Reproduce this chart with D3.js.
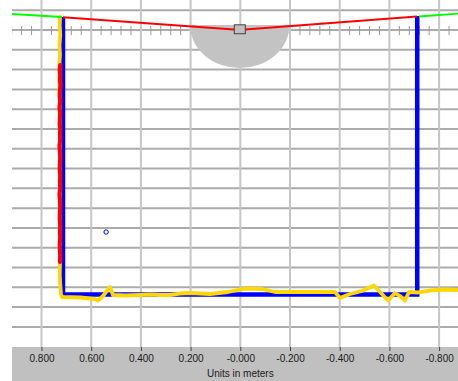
<!DOCTYPE html>
<html><head><meta charset="utf-8">
<script src="https://cdn.jsdelivr.net/npm/d3@7"></script>
<style>html,body{margin:0;padding:0;background:#fff;overflow:hidden}</style>
</head><body><svg id="c" width="458" height="381"></svg>
<script>
// ---- data (meters): [lateral, forward] ----
const majorTicks = [0.8, 0.6, 0.4, 0.2, 0, -0.2, -0.4, -0.6, -0.8];
const tickLabels = ["0.800", "0.600", "0.400", "0.200", "-0.000", "-0.200", "-0.400", "-0.600", "-0.800"];
const gridRows = [-0.08, 0, 0.08, 0.16, 0.24, 0.32, 0.40, 0.48, 0.56, 0.64, 0.72, 0.80, 0.88, 0.96, 1.04, 1.12, 1.20];
const axisTitle = "Units in meters";

const blueScan = [[0.7135, -0.0525], [0.7135, 1.069], [-0.712, 1.069], [-0.712, -0.0566]];
const yellowScan = [
  [0.7256, -0.0525], [0.7266, -0.0202], [0.7245, 0.0202], [0.7276, 0.0606], [0.7256, 0.1010], [0.7276, 0.1293],
  [0.7256, 0.4850], [0.7256, 0.6871], [0.7256, 0.9378], [0.7266, 0.9903], [0.7245, 1.0307], [0.7215, 1.0671],
  [0.7175, 1.0792], [0.6451, 1.0812], [0.5847, 1.0873], [0.5726, 1.0934], [0.5525, 1.0752], [0.5243, 1.0388],
  [0.5123, 1.0711], [0.4636, 1.0731], [0.4036, 1.0711], [0.3634, 1.0691], [0.3231, 1.0711], [0.2829, 1.0711],
  [0.2425, 1.0651], [0.2024, 1.0631], [0.1622, 1.0651], [0.1219, 1.0671], [0.0495, 1.0590], [-0.0189, 1.0449],
  [-0.0873, 1.0469], [-0.1396, 1.0590], [-0.2402, 1.0590], [-0.3207, 1.0590], [-0.3811, 1.0590], [-0.4012, 1.0833],
  [-0.4414, 1.0671], [-0.4897, 1.0550], [-0.5380, 1.0327], [-0.5662, 1.0631], [-0.5944, 1.0934], [-0.6225, 1.0631],
  [-0.6427, 1.0752], [-0.6628, 1.0934], [-0.6789, 1.0590], [-0.7151, 1.0610], [-0.7634, 1.0530], [-0.8237, 1.0489],
  [-0.8760, 1.0509]
];
const redWall = [
  [0.7245, 0.1415], [0.7266, 0.1617], [0.7245, 0.1819], [0.7256, 0.2021], [0.7235, 0.2223], [0.7256, 0.2425],
  [0.7266, 0.2627], [0.7245, 0.2890], [0.7276, 0.3153], [0.7245, 0.3355], [0.7256, 0.3557], [0.7266, 0.3800],
  [0.7245, 0.4042], [0.7256, 0.4244], [0.7245, 0.4446], [0.7276, 0.4689], [0.7256, 0.4931], [0.7245, 0.5154],
  [0.7256, 0.5376], [0.7266, 0.5619], [0.7245, 0.5861], [0.7256, 0.6124], [0.7245, 0.6386], [0.7276, 0.6629],
  [0.7256, 0.6871], [0.7245, 0.7114], [0.7256, 0.7357], [0.7266, 0.7620], [0.7245, 0.7882], [0.7256, 0.8145],
  [0.7245, 0.8407], [0.7266, 0.8650], [0.7256, 0.8892], [0.7245, 0.9135], [0.7256, 0.9378]
];
const redFovLeft = [[0.7135, -0.0513], [0.0254, -0.0020]];
const redFovRight = [[-0.0189, -0.0020], [-0.7110, -0.0546]];
const greenLeft = [[0.9187, -0.0647], [0.7175, -0.0525]];
const greenRight = [[-0.7191, -0.0546], [-0.8760, -0.0659]];
const sensor = {x: 0.002, y: -0.003, w: 0.0443, h: 0.036};
const sensorZone = {x: 0.002, y: -0.0202, rx: 0.2, ry: 0.1738};
const outlier = [[0.540, 0.8165]];

// ---- scales ----
const W = 458, H = 381, L = 12, R = 458, T = 0, B = 347;
const x = d3.scaleLinear().domain([0.9187, -0.8760]).range([L, R]);
const y = d3.scaleLinear().domain([-0.1213, 1.2813]).range([T, B]);

const svg = d3.select("#c");
svg.append("rect").attr("width", W).attr("height", H).attr("fill", "#fff");
svg.append("defs").append("clipPath").attr("id", "clip")
  .append("rect").attr("x", L).attr("y", T).attr("width", R - L).attr("height", B - T);

const plot = svg.append("g").attr("clip-path", "url(#clip)");

// grid
plot.selectAll("line.h").data(gridRows).join("line")
  .attr("x1", L).attr("x2", R).attr("y1", d => y(d)).attr("y2", d => y(d))
  .attr("stroke", "#ababab").attr("stroke-width", 2);
plot.selectAll("line.v").data(majorTicks).join("line")
  .attr("y1", T).attr("y2", B).attr("x1", d => x(d)).attr("x2", d => x(d))
  .attr("stroke", "#c6c6c6").attr("stroke-width", 2);
const minor = d3.range(-22, 24).map(k => k * 0.04).filter(v => Math.abs(Math.round(v * 100) % 20) !== 0);
plot.selectAll("line.m").data(minor).join("line")
  .attr("x1", d => x(d)).attr("x2", d => x(d)).attr("y1", y(0) - 4).attr("y2", y(0) + 5)
  .attr("stroke", "#9a9a9a").attr("stroke-width", 1);

// sensor zone (half ellipse)
const cx = x(sensorZone.x), cy = y(sensorZone.y);
const rx = Math.abs(x(sensorZone.rx) - x(0)), ry = y(sensorZone.ry) - y(0);
plot.append("path")
  .attr("d", `M${cx - rx},${cy} A${rx},${ry} 0 0 0 ${cx + rx},${cy} Z`)
  .attr("fill", "#c3c3c3");

const line = d3.line().x(d => x(d[0])).y(d => y(d[1]));

plot.append("path").datum(blueScan).attr("d", line).attr("fill", "none")
  .attr("stroke", "#0000ff").attr("stroke-width", 4.5).attr("stroke-linejoin", "miter");
plot.append("path").datum(yellowScan).attr("d", line).attr("fill", "none")
  .attr("stroke", "#ffd700").attr("stroke-width", 3.8).attr("stroke-linejoin", "round").attr("stroke-linecap", "round");
plot.append("path").datum(redWall).attr("d", line).attr("fill", "none")
  .attr("stroke", "#ff0000").attr("stroke-width", 4.2).attr("stroke-linejoin", "round").attr("stroke-linecap", "round");
[redFovLeft, redFovRight].forEach(s => plot.append("path").datum(s).attr("d", line).attr("fill", "none")
  .attr("stroke", "#ff0000").attr("stroke-width", 2));
[greenLeft, greenRight].forEach(s => plot.append("path").datum(s).attr("d", line).attr("fill", "none")
  .attr("stroke", "#00ff00").attr("stroke-width", 1.8));

// sensor box
const sw = Math.abs(x(sensor.w) - x(0)), sh = y(sensor.h) - y(0);
plot.append("rect").attr("x", x(sensor.x) - sw / 2).attr("y", y(sensor.y) - sh / 2)
  .attr("width", sw).attr("height", sh).attr("fill", "#c0c0c0").attr("stroke", "#404040").attr("stroke-width", 1);

plot.selectAll("circle.o").data(outlier).join("circle")
  .attr("cx", d => x(d[0])).attr("cy", d => y(d[1])).attr("r", 2.2)
  .attr("fill", "none").attr("stroke", "#0000ff").attr("stroke-width", 1);

// bottom axis band
svg.append("rect").attr("x", L).attr("y", B).attr("width", R - L).attr("height", H - B).attr("fill", "#c0c0c0");
const axis = d3.axisBottom(x).tickValues(majorTicks).tickFormat((d, i) => tickLabels[i]).tickSize(4).tickPadding(4);
const ag = svg.append("g").attr("transform", `translate(0,${B})`).call(axis);
ag.select(".domain").remove();
ag.selectAll(".tick line").attr("stroke", "#404040");
ag.selectAll(".tick text").attr("fill", "#1a1a1a").attr("font-family", "Liberation Sans, Arial, sans-serif").attr("font-size", 10);
svg.append("text").attr("x", x(0)).attr("y", 377).attr("text-anchor", "middle")
  .attr("font-family", "Liberation Sans, Arial, sans-serif").attr("font-size", 10).attr("fill", "#1a1a1a")
  .text(axisTitle);
</script></body></html>
